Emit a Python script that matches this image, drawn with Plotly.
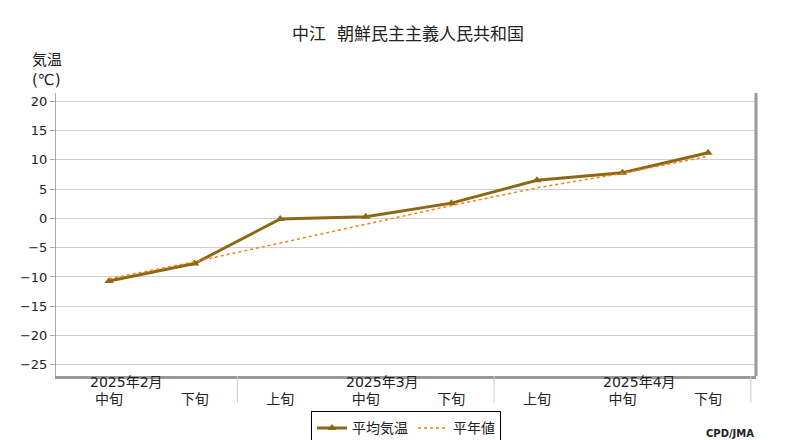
import plotly.graph_objects as go

dekads = ["中旬", "下旬", "上旬", "中旬", "下旬", "上旬", "中旬", "下旬"]
months = ["2025年2月", "2025年3月", "2025年4月"]
month_pos = [0.2, 3.2, 6.2]
sep_pos = [1.5, 4.5, 7.5]
mean_temp = [-10.7, -7.7, -0.1, 0.3, 2.6, 6.5, 7.8, 11.2]
normal = [-10.3, -7.4, -4.2, -1.0, 2.2, 5.2, 7.7, 10.6]
x = list(range(len(dekads)))
font = "DejaVu Sans, Noto Sans CJK JP"

fig = go.Figure()
fig.add_trace(go.Scatter(x=x, y=mean_temp, name="平均気温", mode="lines+markers",
                         line=dict(color="#8B6914", width=3),
                         marker=dict(symbol="triangle-up", size=8, color="#8B6914")))
fig.add_trace(go.Scatter(x=x, y=normal, name="平年値", mode="lines",
                         line=dict(color="#FF7F0E", width=1.5, dash="dot")))

fig.update_layout(
    width=800, height=440, plot_bgcolor="white", paper_bgcolor="white",
    font=dict(family=font, size=14, color="#222"),
    margin=dict(l=48, r=52, t=85, b=72, autoexpand=False),
    title=dict(text="中江  朝鮮民主主義人民共和国", x=0.5, y=0.955, xanchor="center",
               font=dict(size=17)),
    showlegend=True,
    legend=dict(orientation="h", x=0.5, xanchor="center", y=-0.125, yanchor="top",
                bordercolor="#000", borderwidth=1, font=dict(size=14),
                tracegroupgap=0, itemwidth=30),
    xaxis=dict(range=[-0.62, 7.56], tickvals=x, ticktext=dekads, showgrid=False,
               showline=True, linecolor="#999", linewidth=3, ticks="", zeroline=False,
               tickfont=dict(size=14), ticklabelstandoff=8, automargin=False),
    yaxis=dict(range=[-26.9, 21.4], tickvals=list(range(-25, 21, 5)), showgrid=True,
               gridcolor="#d0d0d0", showline=True, linecolor="#aaa", linewidth=1,
               zeroline=False, ticks="outside", ticklen=5, tickcolor="#aaa",
               tickfont=dict(size=13), automargin=False),
)
for m, p in zip(months, month_pos):
    fig.add_annotation(x=p, y=0, yref="paper", yshift=-16, text=m, showarrow=False,
                       font=dict(size=14))
for p in sep_pos:
    fig.add_shape(type="line", x0=p, x1=p, y0=0, y1=-0.095, yref="paper",
                  line=dict(color="#ccc", width=1))
fig.add_shape(type="line", x0=1, x1=1, y0=0, y1=1, xref="paper", yref="paper",
              line=dict(color="#999", width=3))
fig.add_annotation(x=0, y=1, xref="paper", yref="paper", xanchor="right", yanchor="bottom",
                   xshift=8, yshift=2, text="気温<br>(℃)", showarrow=False, align="left",
                   font=dict(size=15))
fig.add_annotation(x=1, y=0, xref="paper", yref="paper", xanchor="right", yanchor="top",
                   yshift=-50, text="<b>CPD/JMA</b>", showarrow=False, font=dict(size=10))
fig.write_html("out.html")
